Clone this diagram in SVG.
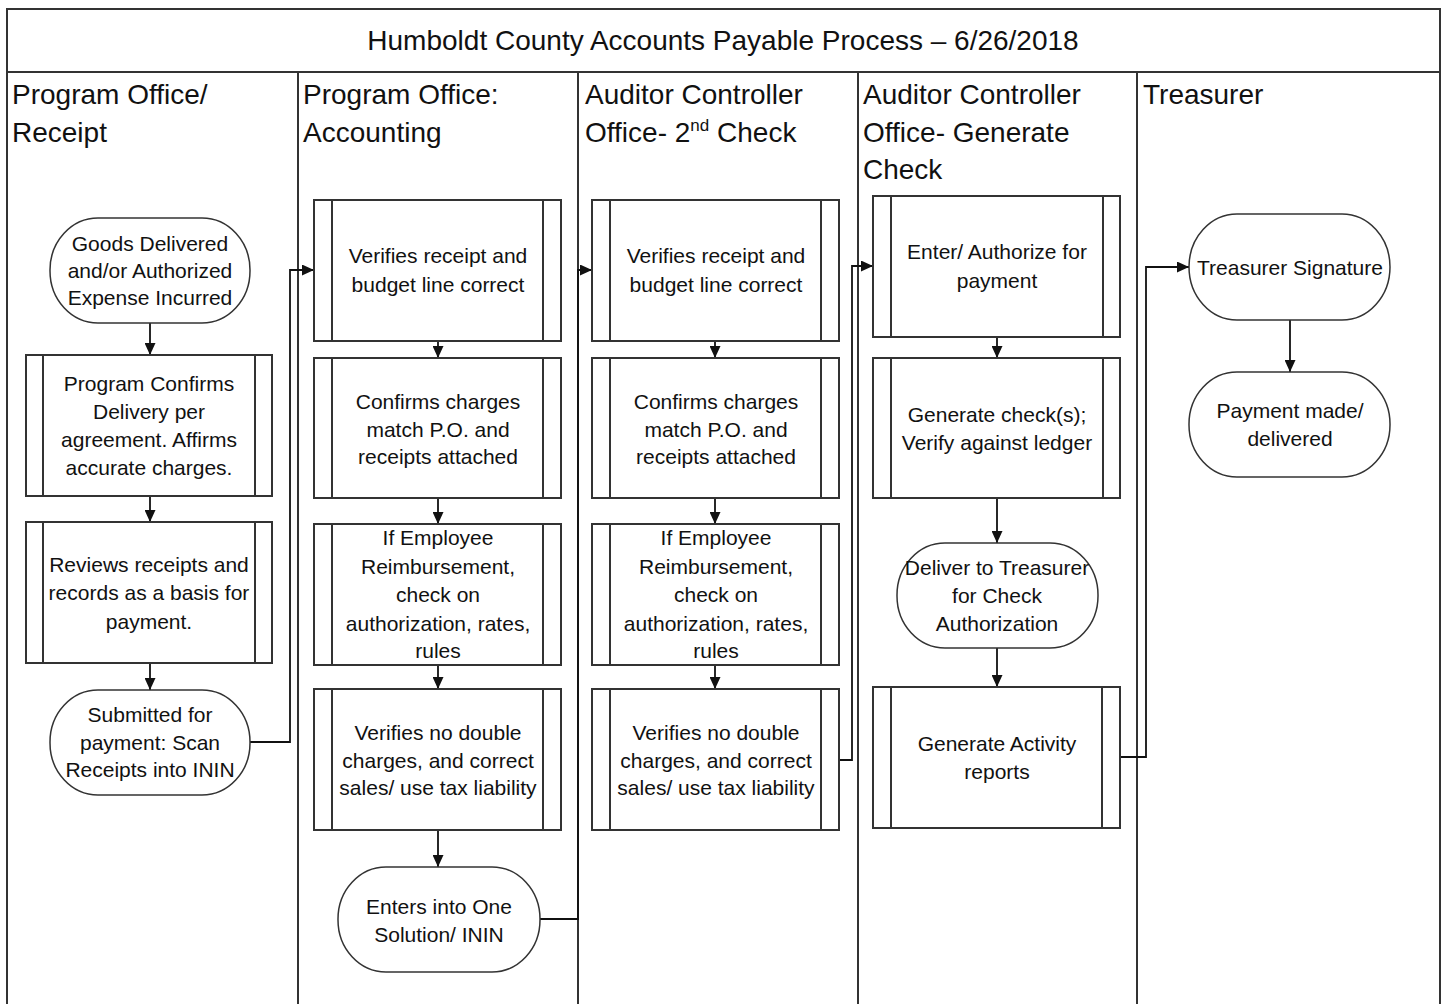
<svg xmlns="http://www.w3.org/2000/svg" width="1447" height="1004" viewBox="0 0 1447 1004">
<defs>
<marker id="ah" markerWidth="12" markerHeight="11" refX="12" refY="5.5" orient="auto" markerUnits="userSpaceOnUse" viewBox="0 0 12 11"><path d="M0,0 L12,5.5 L0,11 z" fill="#111"/></marker>
<style>
.frame{fill:none;stroke:#333;stroke-width:2}
.box{fill:#fff;stroke:#333;stroke-width:2}
.side{stroke:#333;stroke-width:2}
.term{fill:#fff;stroke:#333;stroke-width:1.5}
.t{font-family:"Liberation Sans",Arial,sans-serif;font-size:21px;fill:#111;text-anchor:middle}
.h{font-family:"Liberation Sans",Arial,sans-serif;font-size:28px;fill:#111}
.c{fill:none;stroke:#111;stroke-width:1.8}
</style>
</defs>
<rect width="1447" height="1004" fill="#fff"/>
<g id="frame">
<path class="frame" d="M7,1004 V9 H1440 V1004 M7,72 H1440 M298,72 V1004 M578,72 V1004 M858,72 V1004 M1137,72 V1004"/>
<text class="h" x="723" y="50" text-anchor="middle">Humboldt County Accounts Payable Process – 6/26/2018</text>
</g>
<g id="lane-headers">
<text class="h" x="12" y="104">Program Office/</text>
<text class="h" x="12" y="142">Receipt</text>
<text class="h" x="303" y="104">Program Office:</text>
<text class="h" x="303" y="142">Accounting</text>
<text class="h" x="585" y="104">Auditor Controller</text>
<text class="h" x="585" y="142">Office- 2<tspan font-size="17" dy="-11">nd</tspan><tspan dy="11"> Check</tspan></text>
<text class="h" x="863" y="104">Auditor Controller</text>
<text class="h" x="863" y="142">Office- Generate</text>
<text class="h" x="863" y="179">Check</text>
<text class="h" x="1143" y="104">Treasurer</text>
</g>
<g id="connectors">
<path class="c" d="M150,323 V355" marker-end="url(#ah)"/>
<path class="c" d="M150,496 V522" marker-end="url(#ah)"/>
<path class="c" d="M150,663 V690" marker-end="url(#ah)"/>
<path class="c" d="M250,742 H290 V270 H314" marker-end="url(#ah)"/>
<path class="c" d="M438,341 V358" marker-end="url(#ah)"/>
<path class="c" d="M438,498 V524" marker-end="url(#ah)"/>
<path class="c" d="M438,665 V689" marker-end="url(#ah)"/>
<path class="c" d="M438,830 V867" marker-end="url(#ah)"/>
<path class="c" d="M540,919 H578 V270 H592" marker-end="url(#ah)"/>
<path class="c" d="M715,341 V358" marker-end="url(#ah)"/>
<path class="c" d="M715,498 V524" marker-end="url(#ah)"/>
<path class="c" d="M715,665 V689" marker-end="url(#ah)"/>
<path class="c" d="M839,760 H852 V266 H873" marker-end="url(#ah)"/>
<path class="c" d="M997,337 V358" marker-end="url(#ah)"/>
<path class="c" d="M997,498 V543" marker-end="url(#ah)"/>
<path class="c" d="M997,648 V687" marker-end="url(#ah)"/>
<path class="c" d="M1120,757 H1146 V267 H1189" marker-end="url(#ah)"/>
<path class="c" d="M1290,320 V372" marker-end="url(#ah)"/>
</g>
<g id="goods-delivered">
<rect class="term" x="50" y="218" width="200" height="105" rx="48" ry="52"/>
<text class="t" x="150" y="251">Goods Delivered</text>
<text class="t" x="150" y="278">and/or Authorized</text>
<text class="t" x="150" y="305">Expense Incurred</text>
</g>
<g id="program-confirms">
<rect class="box" x="26" y="355" width="246" height="141"/>
<path class="side" d="M43,355 V496 M255,355 V496"/>
<text class="t" x="149" y="391">Program Confirms</text>
<text class="t" x="149" y="419">Delivery per</text>
<text class="t" x="149" y="447">agreement. Affirms</text>
<text class="t" x="149" y="475">accurate charges.</text>
</g>
<g id="reviews-receipts">
<rect class="box" x="26" y="522" width="246" height="141"/>
<path class="side" d="M43,522 V663 M255,522 V663"/>
<text class="t" x="149" y="572">Reviews receipts and</text>
<text class="t" x="149" y="600">records as a basis for</text>
<text class="t" x="149" y="629">payment.</text>
</g>
<g id="submitted">
<rect class="term" x="50" y="690" width="200" height="105" rx="48" ry="52"/>
<text class="t" x="150" y="722">Submitted for</text>
<text class="t" x="150" y="750">payment: Scan</text>
<text class="t" x="150" y="777">Receipts into ININ</text>
</g>
<g id="acct-verifies-receipt">
<rect class="box" x="314" y="200" width="247" height="141"/>
<path class="side" d="M332,200 V341 M543,200 V341"/>
<text class="t" x="438" y="263">Verifies receipt and</text>
<text class="t" x="438" y="292">budget line correct</text>
</g>
<g id="acct-confirms-charges">
<rect class="box" x="314" y="358" width="247" height="140"/>
<path class="side" d="M332,358 V498 M543,358 V498"/>
<text class="t" x="438" y="409">Confirms charges</text>
<text class="t" x="438" y="437">match P.O. and</text>
<text class="t" x="438" y="464">receipts attached</text>
</g>
<g id="acct-employee-reimb">
<rect class="box" x="314" y="524" width="247" height="141"/>
<path class="side" d="M332,524 V665 M543,524 V665"/>
<text class="t" x="438" y="545">If Employee</text>
<text class="t" x="438" y="574">Reimbursement,</text>
<text class="t" x="438" y="602">check on</text>
<text class="t" x="438" y="631">authorization, rates,</text>
<text class="t" x="438" y="658">rules</text>
</g>
<g id="acct-double-charges">
<rect class="box" x="314" y="689" width="247" height="141"/>
<path class="side" d="M332,689 V830 M543,689 V830"/>
<text class="t" x="438" y="740">Verifies no double</text>
<text class="t" x="438" y="768">charges, and correct</text>
<text class="t" x="438" y="795">sales/ use tax liability</text>
</g>
<g id="enters-one-solution">
<rect class="term" x="338" y="867" width="202" height="105" rx="48" ry="52"/>
<text class="t" x="439" y="914">Enters into One</text>
<text class="t" x="439" y="942">Solution/ ININ</text>
</g>
<g id="aud-verifies-receipt">
<rect class="box" x="592" y="200" width="247" height="141"/>
<path class="side" d="M610,200 V341 M821,200 V341"/>
<text class="t" x="716" y="263">Verifies receipt and</text>
<text class="t" x="716" y="292">budget line correct</text>
</g>
<g id="aud-confirms-charges">
<rect class="box" x="592" y="358" width="247" height="140"/>
<path class="side" d="M610,358 V498 M821,358 V498"/>
<text class="t" x="716" y="409">Confirms charges</text>
<text class="t" x="716" y="437">match P.O. and</text>
<text class="t" x="716" y="464">receipts attached</text>
</g>
<g id="aud-employee-reimb">
<rect class="box" x="592" y="524" width="247" height="141"/>
<path class="side" d="M610,524 V665 M821,524 V665"/>
<text class="t" x="716" y="545">If Employee</text>
<text class="t" x="716" y="574">Reimbursement,</text>
<text class="t" x="716" y="602">check on</text>
<text class="t" x="716" y="631">authorization, rates,</text>
<text class="t" x="716" y="658">rules</text>
</g>
<g id="aud-double-charges">
<rect class="box" x="592" y="689" width="247" height="141"/>
<path class="side" d="M610,689 V830 M821,689 V830"/>
<text class="t" x="716" y="740">Verifies no double</text>
<text class="t" x="716" y="768">charges, and correct</text>
<text class="t" x="716" y="795">sales/ use tax liability</text>
</g>
<g id="enter-authorize">
<rect class="box" x="873" y="196" width="247" height="141"/>
<path class="side" d="M891,196 V337 M1103,196 V337"/>
<text class="t" x="997" y="259">Enter/ Authorize for</text>
<text class="t" x="997" y="288">payment</text>
</g>
<g id="generate-checks">
<rect class="box" x="873" y="358" width="247" height="140"/>
<path class="side" d="M891,358 V498 M1103,358 V498"/>
<text class="t" x="997" y="422">Generate check(s);</text>
<text class="t" x="997" y="450">Verify against ledger</text>
</g>
<g id="deliver-treasurer">
<rect class="term" x="897" y="543" width="201" height="105" rx="48" ry="52"/>
<text class="t" x="997" y="575">Deliver to Treasurer</text>
<text class="t" x="997" y="603">for Check</text>
<text class="t" x="997" y="631">Authorization</text>
</g>
<g id="activity-reports">
<rect class="box" x="873" y="687" width="247" height="141"/>
<path class="side" d="M891,687 V828 M1102,687 V828"/>
<text class="t" x="997" y="751">Generate Activity</text>
<text class="t" x="997" y="779">reports</text>
</g>
<g id="treasurer-signature">
<rect class="term" x="1189" y="214" width="201" height="106" rx="48" ry="53"/>
<text class="t" x="1290" y="275">Treasurer Signature</text>
</g>
<g id="payment-made">
<rect class="term" x="1189" y="372" width="201" height="105" rx="48" ry="52"/>
<text class="t" x="1290" y="418">Payment made/</text>
<text class="t" x="1290" y="446">delivered</text>
</g>
</svg>
